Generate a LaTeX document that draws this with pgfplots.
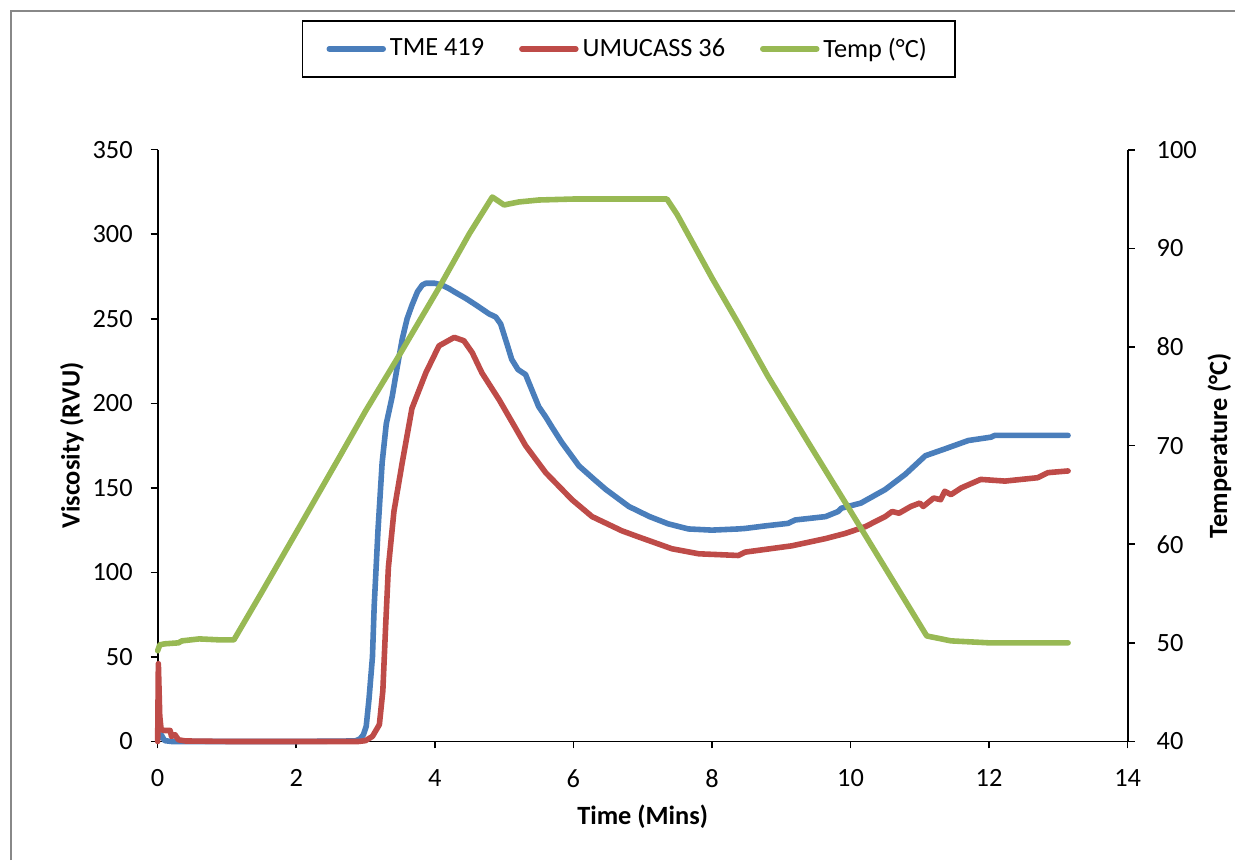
\documentclass[border=0pt]{standalone}
\usepackage{fontspec}
\setmainfont{Carlito}
\usepackage{pgfplots}
\pgfplotsset{compat=1.18}
\definecolor{cblue}{HTML}{4A7EBB}
\definecolor{cred}{HTML}{BE4B48}
\definecolor{cgreen}{HTML}{98B954}
\definecolor{cframe}{HTML}{888888}
\pgfplotsset{
  common/.style={
    at={(79pt,-371.5pt)}, anchor=south west,
    scale only axis, width=486pt, height=296.5pt,
    xmin=0, xmax=14,
    tick align=outside, major tick length=3.5pt,
    tick style={black, line width=0.8pt},
    axis line style={black, line width=0.9pt, -},
    /pgf/number format/assume math mode=true,
    tick label style={font=\fontsize{13.2}{15.8}\selectfont},
    label style={font=\bfseries\fontsize{13.2}{15.8}\selectfont},
    clip=false,
  },
  ser/.style={line width=2.8pt, line cap=round, line join=round},
}
\begin{document}
\begin{tikzpicture}
\path (0pt,0pt) rectangle (619pt,-431pt);
\draw[cframe, line width=1pt] (5.5pt,-431pt) -- (5.5pt,-5.5pt) -- (619pt,-5.5pt);
\begin{axis}[common,
  ymin=0, ymax=350,
  xtick={0,2,...,14}, ytick={0,50,...,350},
  axis x line*=bottom, axis y line*=left,
  xticklabel style={yshift=-7pt},
  yticklabel style={xshift=-5.5pt},
  xlabel={Time (Mins)}, ylabel={Viscosity (RVU)},
  xlabel style={at={(axis description cs:0.5,-0.1265)}, anchor=center},
  ylabel style={at={(axis description cs:-0.0885,0.5)}, anchor=center},
]
\addplot[ser, cblue] coordinates {
(0,4) (0.02,2) (0.05,4) (0.1,0.5) (0.2,0) (1,0) (2,0) (2.85,0.3) (2.92,1.5) (2.97,4) (3.01,9) (3.05,25) (3.1,50) (3.125,80) (3.18,125) (3.24,165) (3.3,188) (3.385,204) (3.46,222) (3.53,238) (3.6,250) (3.67,258) (3.75,266) (3.82,270) (3.87,271) (4.0,271) (4.10,270) (4.2,268) (4.28,266) (4.45,262) (4.6,258) (4.78,253) (4.88,251) (4.95,247) (5.05,234) (5.11,226) (5.2,220) (5.31,217) (5.40,208) (5.50,198) (5.6,192) (5.69,186) (5.83,177) (6.08,163) (6.3,155) (6.47,149) (6.8,139) (7.1,133) (7.37,128.7) (7.66,125.7) (8,125) (8.38,125.7) (8.48,126) (8.77,127.5) (9.10,129) (9.20,131) (9.64,133) (9.82,136) (9.87,138) (10.15,141) (10.50,149) (10.79,158) (11.08,169) (11.36,173) (11.70,178) (12.03,180) (12.08,181) (13.14,181)
};
\addplot[ser, cred] coordinates {
(0,0) (0.01,46) (0.03,15) (0.05,7) (0.1,6.5) (0.18,6.5) (0.2,3) (0.25,4) (0.3,1) (0.4,0.3) (1,0) (2.9,0) (3.0,0.5) (3.1,3) (3.2,10) (3.25,30) (3.29,68) (3.33,103) (3.41,136) (3.53,165) (3.67,197) (3.87,218) (4.06,234) (4.28,239) (4.42,237) (4.54,230) (4.68,218) (4.93,202) (5.17,185) (5.31,175) (5.60,159) (5.98,143) (6.27,133) (6.70,124.6) (6.94,121) (7.42,114) (7.81,111) (8.1,110.5) (8.38,110) (8.48,112) (9.15,115.7) (9.64,120) (9.92,123) (10.21,127) (10.50,133) (10.6,136) (10.7,135) (10.87,139) (11.0,141) (11.05,139) (11.2,144) (11.3,143) (11.36,148) (11.45,146) (11.6,150) (11.88,155) (12.23,154) (12.70,156) (12.85,159) (13.14,160)
};
\end{axis}
\begin{axis}[common,
  ymin=40, ymax=100,
  ytick={40,50,...,100},
  axis y line*=right, axis x line=none,
  yticklabel style={xshift=7.5pt},
  ylabel={Temperature (°C)},
  ylabel style={at={(axis description cs:1.0947,0.5)}, anchor=center},
  legend columns=3,
  legend style={at={(0.4856,1.1703)}, anchor=center, draw=black, line width=0.8pt,
    font=\fontsize{13.2}{15.8}\selectfont,
    /tikz/every even column/.append style={column sep=15.5pt},
    inner xsep=12pt, inner ysep=6.5pt},
  legend image code/.code={\draw[#1] (0pt,0pt) -- (27pt,0pt);},
]
\addlegendimage{ser, cblue}\addlegendentry{TME 419}
\addlegendimage{ser, cred}\addlegendentry{UMUCASS 36}
\addplot[ser, cgreen] coordinates {
(0,49.2) (0.03,49.8) (0.1,49.9) (0.3,50.0) (0.35,50.2) (0.6,50.4) (0.9,50.3) (1.1,50.3) (1.5,55.1) (2.0,61.2) (2.62,68.8) (3.0,73.5) (3.49,79.2) (4.06,86.0) (4.5,91.5) (4.83,95.2) (5.0,94.4) (5.21,94.7) (5.5,94.9) (6.0,95.0) (7.35,95.0) (7.5,93.4) (8.0,87.0) (8.38,82.4) (8.81,77.0) (9.4,70.2) (9.97,63.7) (10.5,57.6) (11.1,50.7) (11.45,50.2) (12,50.0) (13.14,50.0)
};
\addlegendentry{Temp (°C)}
\end{axis}
\end{tikzpicture}
\end{document}
